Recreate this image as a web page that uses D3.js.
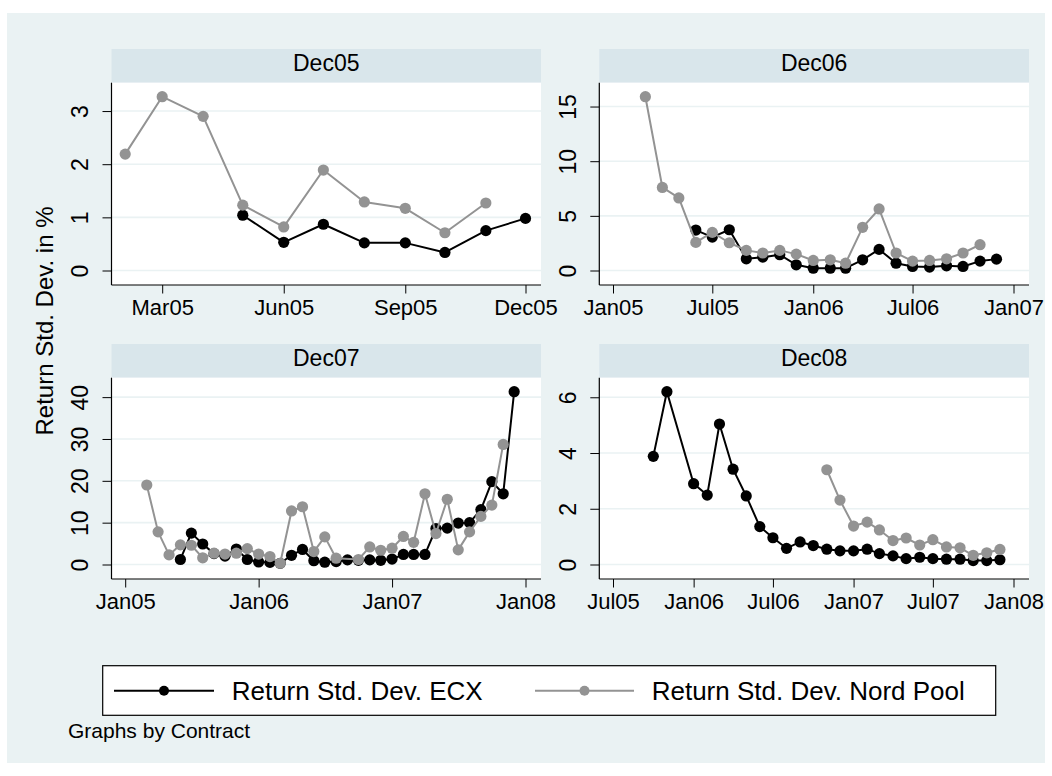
<!DOCTYPE html>
<html><head><meta charset="utf-8">
<script src="https://cdn.jsdelivr.net/npm/d3@7"></script>
<style>
html,body{margin:0;padding:0;background:#fff}
svg{display:block;font-family:"Liberation Sans",Arial,Helvetica,sans-serif}
</style>
</head><body>
<svg id="c" width="1052" height="776"></svg>
<script>
// ---------------- data ----------------
const contracts = ["Dec05", "Dec06", "Dec07", "Dec08"];
const seriesNames = ["Return Std. Dev. ECX", "Return Std. Dev. Nord Pool"];

const months05 = ["Feb05","Mar05","Apr05","May05","Jun05","Jul05","Aug05","Sep05","Oct05","Nov05","Dec05"];
const ecx05  = [null, null, null, 1.04, 0.53, 0.87, 0.52, 0.52, 0.34, 0.75, 0.98];
const nord05 = [2.19, 3.27, 2.90, 1.23, 0.82, 1.89, 1.29, 1.17, 0.71, 1.27, null];

const months06 = ["Mar05","Apr05","May05","Jun05","Jul05","Aug05","Sep05","Oct05","Nov05","Dec05",
                  "Jan06","Feb06","Mar06","Apr06","May06","Jun06","Jul06","Aug06","Sep06","Oct06","Nov06","Dec06"];
const ecx06  = [null, null, null, 3.70, 3.06, 3.73, 1.07, 1.22, 1.44, 0.52,
                0.21, 0.21, 0.21, 0.98, 1.93, 0.67, 0.37, 0.31, 0.43, 0.37, 0.86, 1.04];
const nord06 = [15.9, 7.6, 6.64, 2.57, 3.49, 2.54, 1.84, 1.60, 1.84, 1.50,
                0.92, 0.98, 0.67, 3.95, 5.63, 1.60, 0.86, 0.92, 1.07, 1.60, 2.36, null];

const months07 = ["Mar05","Apr05","May05","Jun05","Jul05","Aug05","Sep05","Oct05","Nov05","Dec05",
                  "Jan06","Feb06","Mar06","Apr06","May06","Jun06","Jul06","Aug06","Sep06","Oct06","Nov06","Dec06",
                  "Jan07","Feb07","Mar07","Apr07","May07","Jun07","Jul07","Aug07","Sep07","Oct07","Nov07","Dec07"];
const ecx07  = [null, null, null, 1.2, 7.5, 4.9, 2.6, 2.0, 3.7, 1.2,
                0.6, 0.5, 0.3, 2.2, 3.6, 0.9, 0.55, 0.7, 1.1, 1.0, 1.1, 1.0,
                1.3, 2.4, 2.4, 2.4, 8.6, 8.7, 9.9, 10.0, 13.1, 19.8, 16.9, 41.3];
const nord07 = [19.0, 7.8, 2.3, 4.7, 4.6, 1.6, 2.7, 2.5, 2.7, 3.8,
                2.5, 1.9, 0.3, 12.8, 13.8, 3.1, 6.6, 1.5, null, 1.2, 4.2, 3.4,
                3.9, 6.7, 5.3, 16.9, 7.4, 15.6, 3.5, 7.8, 11.5, 14.2, 28.7, null];

const months08 = ["Oct05","Nov05","Dec05",
                  "Jan06","Feb06","Mar06","Apr06","May06","Jun06","Jul06","Aug06","Sep06","Oct06","Nov06","Dec06",
                  "Jan07","Feb07","Mar07","Apr07","May07","Jun07","Jul07","Aug07","Sep07","Oct07","Nov07","Dec07"];
const ecx08  = [3.88, 6.20, null,
                2.90, 2.49, 5.04, 3.42, 2.46, 1.36, 0.96, 0.58, 0.81, 0.68, 0.55, 0.49,
                0.49, 0.55, 0.39, 0.31, 0.21, 0.26, 0.21, 0.19, 0.19, 0.14, 0.14, 0.17];
const nord08 = [null, null, null,
                null, null, null, null, null, null, null, null, null, null, 3.40, 2.31,
                1.38, 1.52, 1.24, 0.86, 0.95, 0.70, 0.89, 0.63, 0.60, 0.33, 0.42, 0.54];

const xTicks05 = ["Mar05","Jun05","Sep05","Dec05"];
const xTicks06 = ["Jan05","Jul05","Jan06","Jul06","Jan07"];
const xTicks07 = ["Jan05","Jan06","Jan07","Jan08"];
const xTicks08 = ["Jul05","Jan06","Jul06","Jan07","Jul07","Jan08"];

const yTicks05 = [0, 1, 2, 3];
const yTicks06 = [0, 5, 10, 15];
const yTicks07 = [0, 10, 20, 30, 40];
const yTicks08 = [0, 2, 4, 6];

const yTitle = "Return Std. Dev. in %";
const note = "Graphs by Contract";

// ---------------- layout ----------------
const W = 1052, H = 776;
const colors = { ecx: "#000000", nord: "#939393", bg: "#eaf2f3", strip: "#d9e6eb", grid: "#eaf2f3" };
const cols = [[111.5, 541], [599.3, 1029]];
const rows = [{ st: 49, pt: 82.7, pb: 285 }, { st: 344, pt: 377.7, pb: 579 }];

const parseM = d3.utcParse("%b%y");
const fmtM = d3.utcFormat("%b%y");

const svg = d3.select("#c");
svg.append("rect").attr("width", W).attr("height", H).attr("fill", "#fff");
svg.append("rect").attr("x", 7).attr("y", 13).attr("width", W - 14).attr("height", H - 26).attr("fill", colors.bg);

const panelDefs = [
  { name: contracts[0], months: months05, ecx: ecx05, nord: nord05, xt: xTicks05, yt: yTicks05, col: 0, row: 0 },
  { name: contracts[1], months: months06, ecx: ecx06, nord: nord06, xt: xTicks06, yt: yTicks06, col: 1, row: 0 },
  { name: contracts[2], months: months07, ecx: ecx07, nord: nord07, xt: xTicks07, yt: yTicks07, col: 0, row: 1 },
  { name: contracts[3], months: months08, ecx: ecx08, nord: nord08, xt: xTicks08, yt: yTicks08, col: 1, row: 1 }
];

panelDefs.forEach(p => {
  const [L, R] = cols[p.col];
  const r = rows[p.row];
  const g = svg.append("g");

  // strip
  g.append("rect").attr("x", L).attr("y", r.st).attr("width", R - L).attr("height", r.pt - r.st).attr("fill", colors.strip);
  g.append("text").attr("x", (L + R) / 2).attr("y", r.pt - 11.5).attr("text-anchor", "middle")
    .attr("font-size", 23).attr("fill", "#000").text(p.name);

  // plot region
  g.append("rect").attr("x", L).attr("y", r.pt).attr("width", R - L).attr("height", r.pb - r.pt).attr("fill", "#fff");

  const dates = p.months.map(parseM);
  const tickDates = p.xt.map(parseM);
  const xDomain = d3.extent(dates.concat(tickDates));
  const x = d3.scaleUtc().domain(xDomain).range([L + 13.7, R - 15.5]);
  const allVals = p.ecx.concat(p.nord).filter(v => v != null);
  const yMax = Math.max(d3.max(allVals), d3.max(p.yt));
  const y = d3.scaleLinear().domain([0, yMax]).range([r.pb - 14.5, r.pt + 14]);

  // grid
  g.selectAll(".grid").data(p.yt).join("line")
    .attr("x1", L).attr("x2", R).attr("y1", d => y(d)).attr("y2", d => y(d))
    .attr("stroke", colors.grid).attr("stroke-width", 1.6);

  // series
  const series = [
    { vals: p.ecx, color: colors.ecx },
    { vals: p.nord, color: colors.nord }
  ];
  series.forEach(s => {
    const pts = dates.map((d, i) => ({ d, v: s.vals[i] })).filter(o => o.v != null);
    const line = d3.line().x(o => x(o.d)).y(o => y(o.v));
    g.append("path").attr("d", line(pts)).attr("fill", "none").attr("stroke", s.color)
      .attr("stroke-width", 2).attr("stroke-linejoin", "round");
    g.selectAll(null).data(pts).join("circle")
      .attr("cx", o => x(o.d)).attr("cy", o => y(o.v)).attr("r", 5.6).attr("fill", s.color);
  });

  // y axis
  const ya = g.append("g").attr("transform", `translate(${L},0)`)
    .call(d3.axisLeft(y).tickValues(p.yt).tickSize(9).tickSizeOuter(0).tickFormat(d3.format("d")));
  ya.select(".domain").remove();
  ya.selectAll(".tick line").attr("stroke", "#000").attr("stroke-width", 1);
  ya.selectAll(".tick text").attr("x", null).attr("dy", null).attr("text-anchor", "middle")
    .attr("transform", "translate(-23.6,0) rotate(-90)").attr("font-size", 23)
    .attr("font-family", null).attr("fill", "#000");

  // x axis
  const xa = g.append("g").attr("transform", `translate(0,${r.pb})`)
    .call(d3.axisBottom(x).tickValues(tickDates).tickSize(8.5).tickSizeOuter(0).tickFormat(fmtM));
  xa.select(".domain").remove();
  xa.selectAll(".tick line").attr("stroke", "#000").attr("stroke-width", 1);
  xa.selectAll(".tick text").attr("y", 30).attr("dy", null).attr("font-size", 22)
    .attr("font-family", null).attr("fill", "#000");

  // axis lines
  g.append("line").attr("x1", L).attr("x2", L).attr("y1", r.pt).attr("y2", r.pb).attr("stroke", "#000").attr("stroke-width", 1.2);
  g.append("line").attr("x1", L).attr("x2", R).attr("y1", r.pb).attr("y2", r.pb).attr("stroke", "#000").attr("stroke-width", 1.2);
});

// y-axis title
svg.append("text").attr("transform", "translate(53,321) rotate(-90)").attr("text-anchor", "middle")
  .attr("font-size", 24).attr("fill", "#000").text(yTitle);

// legend
const leg = svg.append("g");
leg.append("rect").attr("x", 102.7).attr("y", 665.7).attr("width", 893).attr("height", 49.6)
  .attr("fill", "#fff").attr("stroke", "#000").attr("stroke-width", 1.2);
const legItems = [
  { name: seriesNames[0], color: colors.ecx, x0: 114, x1: 214, tx: 231.7 },
  { name: seriesNames[1], color: colors.nord, x0: 535, x1: 634, tx: 651.7 }
];
legItems.forEach(it => {
  leg.append("line").attr("x1", it.x0).attr("x2", it.x1).attr("y1", 690.7).attr("y2", 690.7)
    .attr("stroke", it.color).attr("stroke-width", 2);
  leg.append("circle").attr("cx", (it.x0 + it.x1) / 2).attr("cy", 690.7).attr("r", 5).attr("fill", it.color);
  leg.append("text").attr("x", it.tx).attr("y", 700).attr("font-size", 26).attr("fill", "#000").text(it.name);
});

// note
svg.append("text").attr("x", 68).attr("y", 737.7).attr("font-size", 21).attr("fill", "#000").text(note);
</script>
</body></html>
